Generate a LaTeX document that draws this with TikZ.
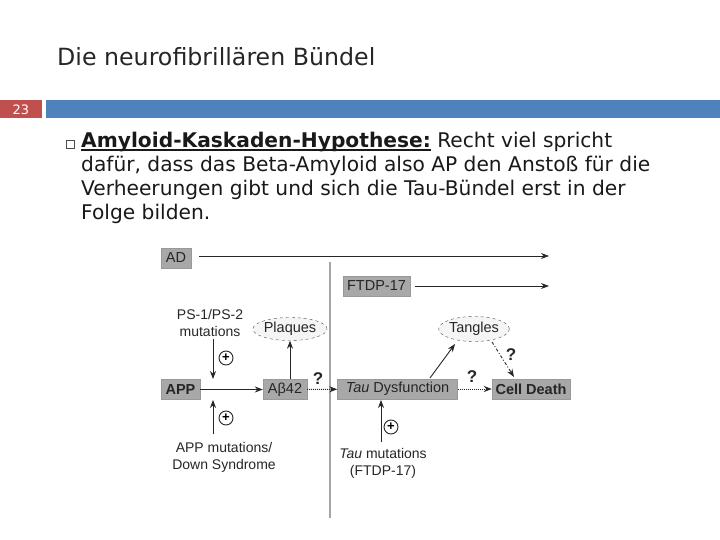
\documentclass[tikz,border=0pt]{standalone}
\usepackage{fontspec}
\setmainfont{DejaVu Sans}
\newfontfamily\diag{Liberation Sans}
\usetikzlibrary{arrows.meta,shapes.geometric}
\definecolor{barblue}{HTML}{4F81BD}
\definecolor{barred}{HTML}{C0504D}
\definecolor{boxgray}{HTML}{A8A8A8}
\newcommand\myuline[1]{\setbox0\hbox{#1}\rlap{\rule[-2.8pt]{\wd0}{1.3pt}}\box0\relax}
\tikzset{
  dbox/.style={fill=boxgray, draw=gray!80, inner sep=0pt, minimum height=20pt, font=\diag\fontsize{14.5}{14.5}\selectfont, text=black!85},
  dlabel/.style={font=\diag\fontsize{14}{17}\selectfont, align=center, text=black!85, inner sep=0pt},
  arr/.style={-{Stealth[length=8pt,width=6pt]}, line width=1pt, black!85},
  darr/.style={-{Stealth[length=8pt,width=6pt]}, line width=1pt, black!85, densely dotted},
  ddarr/.style={-{Stealth[length=8pt,width=6pt]}, line width=1pt, black!85, dash dot},
  blob/.style={ellipse, draw=black!70, dashed, fill=gray!8, inner sep=0pt, font=\diag\fontsize{14.5}{14.5}\selectfont, text=black!85},
  plus/.style={circle, draw=black!85, line width=0.9pt, inner sep=0pt, minimum size=14pt, font=\diag\fontsize{13}{13}\selectfont\bfseries},
  qm/.style={font=\diag\fontsize{17}{17}\selectfont\bfseries, inner sep=0pt, text=black!85},
  bodyline/.style={anchor=base west, inner sep=0pt, font=\fontsize{20.2}{24}\selectfont, text=black!90}
}
\begin{document}
\begin{tikzpicture}[x=1pt,y=-1pt]
\useasboundingbox (0,0) rectangle (720,540);
% title
\node[anchor=base west, inner sep=0pt, font=\fontsize{23.7}{26}\selectfont, text=black!85] (title) at (57,66) {Die neurofibrillären Bündel};
% bars
\fill[barred] (0,100) rectangle (42,118);
\node[font=\fontsize{13}{13}\selectfont, text=white, inner sep=0pt] (num) at (21,109.5) {23};
\fill[barblue] (46,100) rectangle (720,118);
% bullet
\node[draw=black!70, line width=0.6pt, minimum size=8pt, inner sep=0pt] (bul) at (70.5,144) {};
\node[bodyline] (l1) at (81,148) {\myuline{\textbf{Amyloid-Kaskaden-Hypothese:}} Recht viel spricht};
\node[bodyline] (l2) at (81,172) {dafür, dass das Beta-Amyloid also AP den Anstoß für die};
\node[bodyline] (l3) at (81,196) {Verheerungen gibt und sich die Tau-Bündel erst in der};
\node[bodyline] (l4) at (81,220) {Folge bilden.};
% diagram
\draw[gray!70, line width=1.5pt] (330,262) -- (330,518);
\node[dbox, minimum width=30pt] (ad) at (176,258) {AD};
\coordinate (adend) at (549,256);
\draw[arr] (ad.east) ++(8,-2) -- (adend);
\node[dbox, minimum width=67pt] (ftdp) at (376.5,286) {FTDP-17};
\coordinate (ftend) at (549,286);
\draw[arr] (ftdp.east) ++(5,0) -- (ftend);
\node[dlabel] (ps) at (210,322.5) {PS-1/PS-2\\mutations};
\node[dbox, minimum width=39pt, font=\diag\fontsize{14.5}{14.5}\selectfont\bfseries] (app) at (180.5,389.5) {APP};
\node[dbox, minimum width=44pt] (ab) at (285,389.5) {Aβ42};
\node[dbox, minimum width=120pt] (tau) at (397.5,389) {\textit{Tau} Dysfunction};
\node[dbox, minimum width=78pt, font=\diag\fontsize{14.5}{14.5}\selectfont\bfseries] (cd) at (531,389) {Cell Death};
\node[blob, minimum width=60pt, minimum height=23pt] (plq) at (290,329) {Plaques};
\node[blob, minimum width=62pt, minimum height=25pt] (tng) at (474,329) {Tangles};
\node[dlabel] (appm) at (224,457) {APP mutations/\\Down Syndrome};
\node[dlabel] (taum) at (383,463) {\textit{Tau} mutations\\(FTDP-17)};
\node[plus] (p1) at (226,358) {+};
\node[plus] (p2) at (226,418) {+};
\node[plus] (p3) at (391,427) {+};
\draw[arr, line width=0.8pt] (213,339) -- (213,379);
\draw[arr, line width=0.8pt] (213,434) -- (213,400);
\draw[arr, line width=0.8pt] (381,442) -- (381,400);
\draw[arr] (app) -- (ab);
\draw[arr] (plq.south |- ab.north) -- (plq.south);
\draw[darr] (ab) -- (tau);
\node[qm] (q1) at (318,379) {?};
\draw[darr] (tau) -- (cd);
\node[qm] (q2) at (472,377) {?};
\draw[arr, line width=0.9pt] (430,378) -- (455,344);
\draw[ddarr, line width=0.9pt] (492,342) -- (514,377);
\node[qm] (q3) at (511,355) {?};
\end{tikzpicture}
\end{document}
